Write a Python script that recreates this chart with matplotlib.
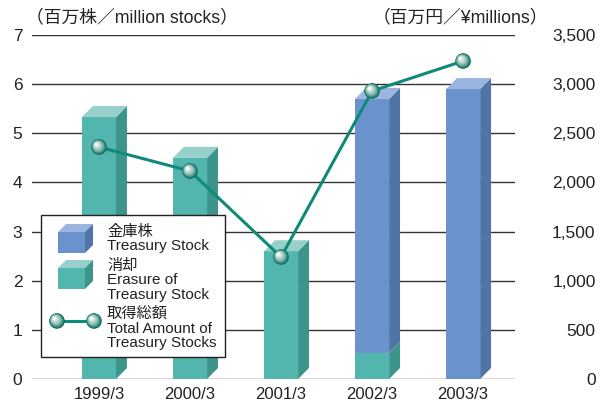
import numpy as np
import matplotlib
matplotlib.use("Agg")
import matplotlib.pyplot as plt
from matplotlib.patches import Polygon, Rectangle
from matplotlib.transforms import ScaledTranslation

plt.rcParams['font.family'] = ['Liberation Sans', 'Noto Sans CJK JP', 'DejaVu Sans']

years = ["1999/3", "2000/3", "2001/3", "2002/3", "2003/3"]
erased = [5.33, 4.5, 2.6, 0.53, 0.0]          # 消却 (million stocks)
treasury = [0.0, 0.0, 0.0, 5.17, 5.9]         # 金庫株 (million stocks)
total_amount = [2360, 2116, 1241, 2930, 3235]  # 取得総額 (¥ millions)

left_ticks = [0, 1, 2, 3, 4, 5, 6, 7]
right_ticks = [0, 500, 1000, 1500, 2000, 2500, 3000, 3500]

teal = dict(front="#52b6ae", top="#97d0ca", side="#3d948b")
blue = dict(front="#6a93cd", top="#9bb5e0", side="#5074a5")
line_col = "#0d8a78"

W, H = 607, 403
fig = plt.figure(figsize=(W / 100, H / 100), dpi=100)
ax = fig.add_axes([32 / W, 24 / H, 483 / W, 344 / H])
ax2 = ax.twinx()

x = np.arange(len(years))
bw = 0.374
ddx, ddy = 0.12, 0.224


def box3d(a, xc, y0, y1, c, top=True, z=3):
    xl, xr = xc - bw / 2, xc + bw / 2
    a.add_patch(Rectangle((xl, y0), bw, y1 - y0, fc=c["front"], ec="none", zorder=z))
    a.add_patch(Polygon([(xr, y0), (xr + ddx, y0 + ddy), (xr + ddx, y1 + ddy), (xr, y1)],
                        closed=True, fc=c["side"], ec="none", zorder=z))
    if top:
        a.add_patch(Polygon([(xl, y1), (xr, y1), (xr + ddx, y1 + ddy), (xl + ddx, y1 + ddy)],
                            closed=True, fc=c["top"], ec="none", zorder=z))


for i in range(len(years)):
    e, t = erased[i], treasury[i]
    if e > 0:
        box3d(ax, x[i], 0, e, teal, top=(t == 0))
    if t > 0:
        box3d(ax, x[i], e, e + t, blue, top=True)

ax.set_xlim(-0.736, 4.57)
ax.set_ylim(0, 7)
ax.set_yticks(left_ticks)
ax.set_xticks(x)
ax.set_xticklabels(years)
for y in left_ticks:
    ax.axhline(y, color="#333333", lw=1.0, zorder=1)
for s in ax.spines.values():
    s.set_visible(False)
for s in ax2.spines.values():
    s.set_visible(False)
ax.tick_params(axis="y", length=0, pad=7, labelsize=12.5, labelcolor="#222222")
ax.tick_params(axis="x", length=0, pad=6, labelsize=12, labelcolor="#222222")

ax2.set_ylim(0, 3500)
ax2.set_yticks(right_ticks)
ax2.set_yticklabels([f"{v:,}" for v in right_ticks])
ax2.tick_params(axis="y", length=0, pad=58, labelsize=12.5, labelcolor="#222222")
for lab in ax2.get_yticklabels():
    lab.set_horizontalalignment("right")


def sphere(a, xs, ys, size, z=6):
    # layered discs fading toward a highlight in the upper left
    n = 16
    dark = np.array(matplotlib.colors.to_rgb("#07695a"))
    mid = np.array(matplotlib.colors.to_rgb("#86bcb1"))
    light = np.array([1.0, 1.0, 1.0])
    for k in range(n):
        f = k / (n - 1)
        if f < 0.4:
            col = dark + (mid - dark) * (f / 0.4)
        else:
            col = mid + (light - mid) * (f - 0.4) / 0.6
        s = size * (1 - 0.88 * f) ** 2
        off = ScaledTranslation(-0.028 * f, 0.028 * f, fig.dpi_scale_trans)
        a.scatter(xs, ys, s=s, color=col, edgecolors="none", zorder=z,
                  transform=a.transData + off)


ax2.plot(x, total_amount, color=line_col, lw=2.2, zorder=5)
sphere(ax2, x, total_amount, 125)

ax.set_zorder(1)
ax2.set_zorder(2)
ax.patch.set_visible(False)

fig.text(26 / W, 1 - 18 / H, "（百万株／million stocks）", fontsize=12.8, va="center", ha="left",
         color="#222222")
fig.text(548 / W, 1 - 18 / H, "（百万円／¥millions）", fontsize=12.8, va="center", ha="right",
         color="#222222")

# legend panel drawn in pixel space
lg = fig.add_axes([0, 0, 1, 1], zorder=10)
lg.set_xlim(0, W)
lg.set_ylim(H, 0)
lg.axis("off")
lg.add_patch(Rectangle((41, 215), 184, 142, fc="white", ec="#222222", lw=1.0))


def cube_icon(x0, y0, w, h, d, c):
    lg.add_patch(Rectangle((x0, y0), w, h, fc=c["front"], ec="none"))
    lg.add_patch(Polygon([(x0, y0), (x0 + d, y0 - d), (x0 + w + d, y0 - d), (x0 + w, y0)],
                         fc=c["top"], ec="none"))
    lg.add_patch(Polygon([(x0 + w, y0), (x0 + w + d, y0 - d), (x0 + w + d, y0 + h - d), (x0 + w, y0 + h)],
                         fc=c["side"], ec="none"))


cube_icon(58, 232, 27, 21, 8, blue)
cube_icon(58, 268, 27, 21, 8, teal)
lg.plot([57, 94], [321, 321], color=line_col, lw=2.2, zorder=3)
sphere(lg, [57, 94], [321, 321], 125, z=4)

fs = 11
for ty, txt in [(232, "金庫株"), (246, "Treasury Stock"), (266, "消却"), (280, "Erasure of"),
                (295, "Treasury Stock"), (314, "取得総額"), (329, "Total Amount of"),
                (343, "Treasury Stocks")]:
    lg.text(107, ty, txt, fontsize=fs, va="center", ha="left", color="#222222")

fig.savefig("out.png", dpi=100)
